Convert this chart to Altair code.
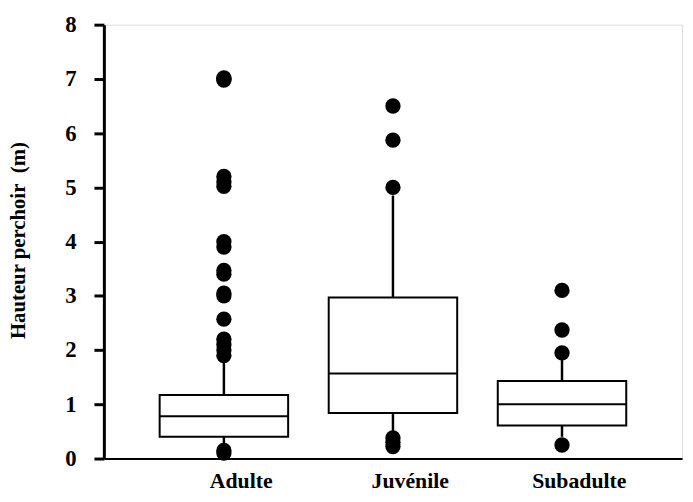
import altair as alt
import pandas as pd

categories = ["Adulte", "Juvénile", "Subadulte"]
q1 = [0.40, 0.84, 0.61]
median = [0.78, 1.57, 1.00]
q3 = [1.17, 2.97, 1.43]
whisk_low = [0.28, 0.45, 0.40]
whisk_high = [1.85, 4.85, 1.95]

out_adulte = [7.0, 7.02, 6.98, 5.2, 5.1, 5.02, 4.0, 3.9, 3.47, 3.4, 3.05, 3.0, 2.57, 2.2, 2.1, 2.0, 1.9, 0.15, 0.1]
out_juvenile = [6.5, 5.87, 5.0, 0.38, 0.3, 0.22]
out_subadulte = [3.1, 2.37, 1.95, 0.25]

stats = pd.DataFrame({
    "cat": categories, "q1": q1, "median": median, "q3": q3,
    "lo": whisk_low, "hi": whisk_high,
})
outliers = pd.DataFrame({
    "cat": ["Adulte"] * len(out_adulte) + ["Juvénile"] * len(out_juvenile) + ["Subadulte"] * len(out_subadulte),
    "v": out_adulte + out_juvenile + out_subadulte,
})

FONT = "Liberation Serif"

xenc = alt.X("cat:N", sort=categories, title=None,
             scale=alt.Scale(type="point", padding=0.71),
             axis=alt.Axis(labelAngle=0, labelFont=FONT, labelFontWeight="bold",
                           labelFontSize=22, labelColor="black", ticks=False, tickSize=0,
                           labelPadding=29, labelBaseline="alphabetic", labelOffset=17,
                           domainColor="black", domainWidth=2, grid=False))

yscale = alt.Scale(domain=[0, 8], nice=False, zero=True)
yaxis = alt.Axis(values=[0, 1, 2, 3, 4, 5, 6, 7, 8], format="d", grid=False,
                 labelFont=FONT, labelFontWeight="bold", labelFontSize=23, labelColor="black",
                 labelPadding=18, tickSize=10, tickWidth=3, tickColor="black",
                 domainColor="black", domainWidth=3,
                 title="Hauteur perchoir\u00a0\u00a0(m)", titleFont=FONT, titleFontWeight="bold",
                 titleFontSize=21, titleColor="black", titleAngle=-90,
                 titleAlign="center", titleBaseline="middle", titleX=-86, titleY=218)

base = alt.Chart(stats)

whisk_lower = base.mark_rule(color="black", strokeWidth=2.5).encode(
    x=xenc, y=alt.Y("lo:Q", scale=yscale, axis=yaxis), y2="q1:Q")
whisk_upper = base.mark_rule(color="black", strokeWidth=2.5).encode(
    x=xenc, y=alt.Y("q3:Q", scale=yscale), y2="hi:Q")
box = base.mark_bar(size=130, fill="white", stroke="black", strokeWidth=2).encode(
    x=xenc, y=alt.Y("q1:Q", scale=yscale), y2="q3:Q")
med = base.mark_tick(size=130, thickness=2, color="black", opacity=1).encode(
    x=xenc, y=alt.Y("median:Q", scale=yscale))
pts = alt.Chart(outliers).mark_circle(size=240, color="black", opacity=1).encode(
    x=xenc, y=alt.Y("v:Q", scale=yscale))

chart = alt.layer(whisk_lower, whisk_upper, box, med, pts).properties(
    width=585, height=439,
    autosize=alt.AutoSizeParams(type="none"),
    padding={"left": 97, "top": 14, "right": 3, "bottom": 33},
).configure_view(stroke=None).configure(background="white")

chart.save("out.html", embed_options={"renderer": "svg", "actions": False})
